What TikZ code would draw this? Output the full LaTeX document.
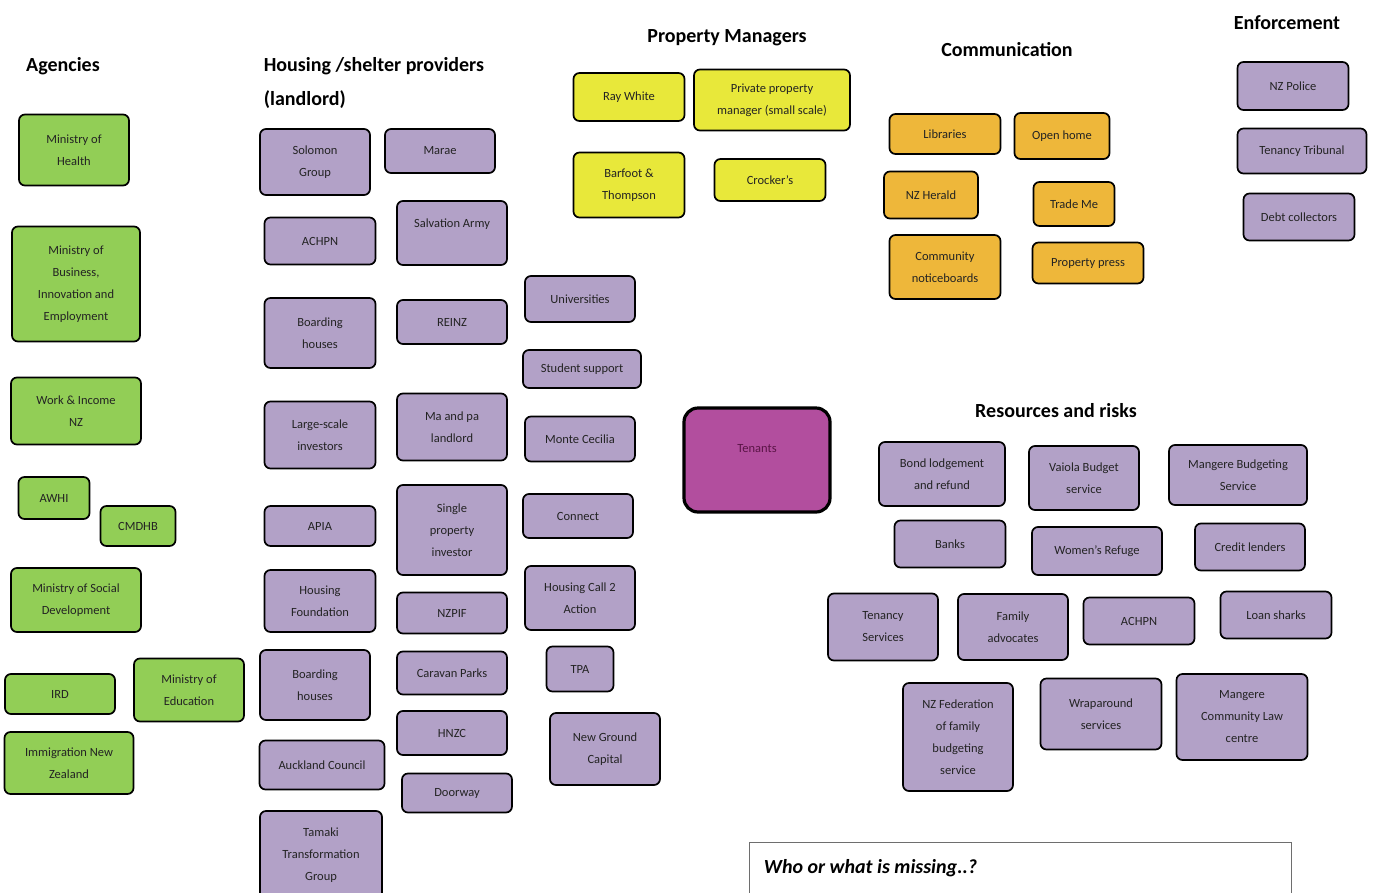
\documentclass[tikz,border=0pt]{standalone}
\usepackage{fontspec}
\setmainfont{Carlito}
\usepackage{xcolor}
\usepackage{tikz}
\definecolor{agency}{RGB}{146,206,86}
\definecolor{provider}{RGB}{178,161,199}
\definecolor{manager}{RGB}{232,232,58}
\definecolor{comms}{RGB}{238,183,58}
\definecolor{tenant}{RGB}{178,78,158}
\definecolor{boxtext}{RGB}{35,35,35}

\begin{document}
\begin{tikzpicture}[x=1pt, y=-1pt,
  every node/.style={draw=black, line width=1.7pt, rounded corners=6pt, align=center, inner sep=0pt, text=boxtext, font=\fontsize{12.5}{22}\selectfont},
  head/.style={draw=none, fill=none, text=black, font=\fontsize{20}{34}\selectfont\bfseries}]
\useasboundingbox (0,0) rectangle (1373,892);

% Headings
\node[head] (hagency) at (63,66) {Agencies};
\node[head, align=left, anchor=north west] (hhousing) at (263,57) {Housing /shelter providers\\(landlord)};
\node[head] (hmanager) at (727,38) {Property Managers};
\node[head] (hcomms) at (1007,50) {Communication};
\node[head] (henforce) at (1287,23) {Enforcement};
\node[head] (hresource) at (1056,411) {Resources and risks};

% Agencies
\node[fill=agency, minimum width=110pt, minimum height=71pt] (moh) at (74,150) {Ministry of\\Health};
\node[fill=agency, minimum width=128pt, minimum height=115pt] (mbie) at (76,284) {Ministry of\\Business,\\Innovation and\\Employment};
\node[fill=agency, minimum width=130pt, minimum height=67pt] (winz) at (76,411) {Work \& Income\\NZ};
\node[fill=agency, minimum width=71pt, minimum height=42pt] (awhi) at (54,498) {AWHI};
\node[fill=agency, minimum width=75pt, minimum height=40pt] (cmdhb) at (138,526) {CMDHB};
\node[fill=agency, minimum width=130pt, minimum height=64pt] (msd) at (76,600) {Ministry of Social\\Development};
\node[fill=agency, minimum width=110pt, minimum height=40pt] (ird) at (60,694) {IRD};
\node[fill=agency, minimum width=110pt, minimum height=63pt] (moe) at (189,690) {Ministry of\\Education};
\node[fill=agency, minimum width=129pt, minimum height=62pt] (inz) at (69,763) {Immigration New\\Zealand};

% Housing / shelter providers
\node[fill=provider, minimum width=110pt, minimum height=66pt] (solomon) at (315,162) {Solomon\\Group};
\node[fill=provider, minimum width=111pt, minimum height=47pt] (achpn) at (320,241) {ACHPN};
\node[fill=provider, minimum width=111pt, minimum height=70pt] (boardA) at (320,333) {Boarding\\houses};
\node[fill=provider, minimum width=111pt, minimum height=67pt] (largescale) at (320,435) {Large-scale\\investors};
\node[fill=provider, minimum width=111pt, minimum height=40pt] (apia) at (320,526) {APIA};
\node[fill=provider, minimum width=111pt, minimum height=62pt] (housingf) at (320,601) {Housing\\Foundation};
\node[fill=provider, minimum width=110pt, minimum height=70pt] (boardB) at (315,685) {Boarding\\houses};
\node[fill=provider, minimum width=125pt, minimum height=49pt] (council) at (322,765) {Auckland Council};
\node[fill=provider, minimum width=122pt, minimum height=88pt] (tamaki) at (321,855) {Tamaki\\Transformation\\Group};

\node[fill=provider, minimum width=110pt, minimum height=44pt] (marae) at (440,151) {Marae};
\node[fill=provider, minimum width=110pt, minimum height=64pt] (salvation) at (452,233) {Salvation Army\\[-2pt]};
\node[fill=provider, minimum width=110pt, minimum height=44pt] (reinz) at (452,322) {REINZ};
\node[fill=provider, minimum width=110pt, minimum height=67pt] (mapa) at (452,427) {Ma and pa\\landlord};
\node[fill=provider, minimum width=110pt, minimum height=90pt] (single) at (452,530) {Single\\property\\investor};
\node[fill=provider, minimum width=110pt, minimum height=41pt] (nzpif) at (452,613) {NZPIF};
\node[fill=provider, minimum width=110pt, minimum height=43pt] (caravan) at (452,673) {Caravan Parks};
\node[fill=provider, minimum width=110pt, minimum height=44pt] (hnzc) at (452,733) {HNZC};
\node[fill=provider, minimum width=110pt, minimum height=39pt] (doorway) at (457,793) {Doorway};

\node[fill=provider, minimum width=110pt, minimum height=46pt] (unis) at (580,299) {Universities};
\node[fill=provider, minimum width=118pt, minimum height=38pt] (student) at (582,369) {Student support};
\node[fill=provider, minimum width=110pt, minimum height=45pt] (monte) at (580,439) {Monte Cecilia};
\node[fill=provider, minimum width=110pt, minimum height=44pt] (connect) at (578,516) {Connect};
\node[fill=provider, minimum width=110pt, minimum height=64pt] (call2) at (580,598) {Housing Call 2\\Action};
\node[fill=provider, minimum width=67pt, minimum height=45pt] (tpa) at (580,669) {TPA};
\node[fill=provider, minimum width=110pt, minimum height=72pt] (newground) at (605,749) {New Ground\\Capital};

% Property managers
\node[fill=manager, minimum width=111pt, minimum height=48pt] (raywhite) at (629,97) {Ray White};
\node[fill=manager, minimum width=156pt, minimum height=61pt] (private) at (772,100) {Private property\\manager (small scale)};
\node[fill=manager, minimum width=111pt, minimum height=65pt] (barfoot) at (629,185) {Barfoot \&\\Thompson};
\node[fill=manager, minimum width=111pt, minimum height=42pt] (crockers) at (770,180) {Crocker’s};

% Communication
\node[fill=comms, minimum width=111pt, minimum height=40pt] (libraries) at (945,134) {Libraries};
\node[fill=comms, minimum width=95pt, minimum height=46pt] (openhome) at (1062,136) {Open home};
\node[fill=comms, minimum width=94pt, minimum height=47pt] (herald) at (931,195) {NZ Herald};
\node[fill=comms, minimum width=81pt, minimum height=44pt] (trademe) at (1074,204) {Trade Me};
\node[fill=comms, minimum width=111pt, minimum height=64pt] (notice) at (945,267) {Community\\noticeboards};
\node[fill=comms, minimum width=111pt, minimum height=41pt] (propress) at (1088,263) {Property press};

% Enforcement
\node[fill=provider, minimum width=111pt, minimum height=48pt] (police) at (1293,86) {NZ Police};
\node[fill=provider, minimum width=129pt, minimum height=45pt] (tribunal) at (1302,151) {Tenancy Tribunal};
\node[fill=provider, minimum width=111pt, minimum height=47pt] (debt) at (1299,217) {Debt collectors};

% Tenants
\node[fill=tenant, line width=3.2pt, rounded corners=14pt, minimum width=146pt, minimum height=104pt, text={rgb,255:red,90;green,20;blue,70}] (tenants) at (757,460) {Tenants\\[2pt]};

% Resources and risks
\node[fill=provider, minimum width=126pt, minimum height=64pt] (bond) at (942,474) {Bond lodgement\\and refund};
\node[fill=provider, minimum width=110pt, minimum height=64pt] (vaiola) at (1084,478) {Vaiola Budget\\service};
\node[fill=provider, minimum width=138pt, minimum height=60pt] (mbudget) at (1238,475) {Mangere Budgeting\\Service};
\node[fill=provider, minimum width=111pt, minimum height=47pt] (banks) at (950,544) {Banks};
\node[fill=provider, minimum width=130pt, minimum height=48pt] (refuge) at (1097,551) {Women’s Refuge};
\node[fill=provider, minimum width=110pt, minimum height=47pt] (credit) at (1250,547) {Credit lenders};
\node[fill=provider, minimum width=110pt, minimum height=67pt] (tenancyserv) at (883,627) {Tenancy\\Services};
\node[fill=provider, minimum width=110pt, minimum height=66pt] (family) at (1013,627) {Family\\advocates};
\node[fill=provider, minimum width=111pt, minimum height=47pt] (achpnR) at (1139,621) {ACHPN};
\node[fill=provider, minimum width=111pt, minimum height=47pt] (loansharks) at (1276,615) {Loan sharks};
\node[fill=provider, minimum width=110pt, minimum height=108pt] (nzfed) at (958,737) {NZ Federation\\of family\\budgeting\\service};
\node[fill=provider, minimum width=121pt, minimum height=71pt] (wrap) at (1101,714) {Wraparound\\services};
\node[fill=provider, minimum width=131pt, minimum height=86pt] (mlaw) at (1242,717) {Mangere\\Community Law\\centre};

% Missing
\draw[draw={rgb,255:red,110;green,110;blue,110}, line width=1pt] (749,905) -- (749,842) -- (1291,842) -- (1291,905);
\node[draw=none, anchor=west, text=black, font=\fontsize{20}{24}\selectfont\bfseries\itshape] (missing) at (763,868) {Who or what is missing..?};
\end{tikzpicture}
\end{document}
